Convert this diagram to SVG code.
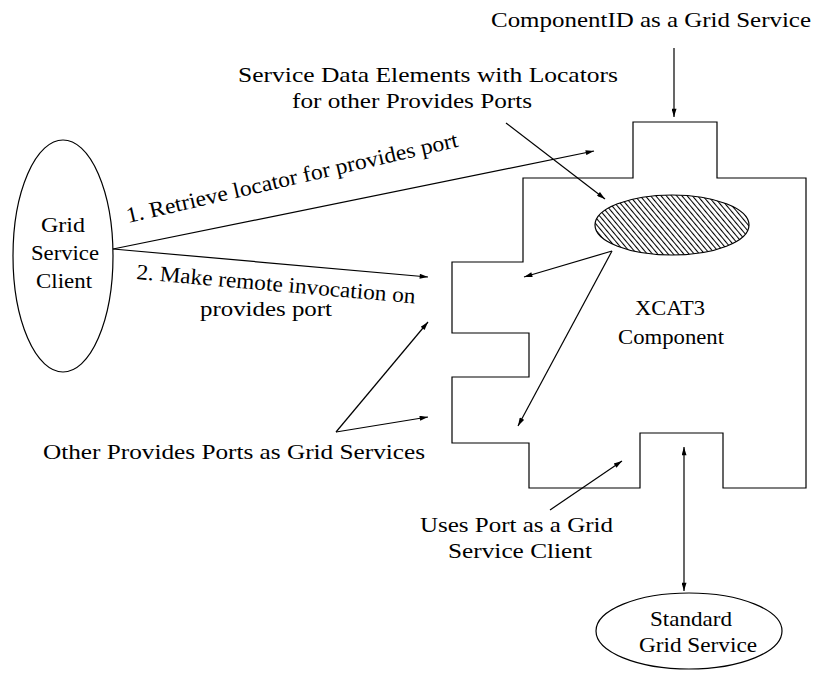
<svg xmlns="http://www.w3.org/2000/svg" width="817" height="673" viewBox="0 0 817 673">
<style>
  text { font-family: "Liberation Serif", "Times New Roman", serif; font-size: 22px; fill: #000; }
  .c { text-anchor: middle; }
  .shape { fill: #fff; stroke: #000; stroke-width: 1.2; }
  .conn line { stroke: #000; stroke-width: 1.2; marker-end: url(#ah); }
</style>
<defs>
  <marker id="ah" viewBox="0 0 10 6" refX="10" refY="3" markerWidth="10" markerHeight="5" markerUnits="userSpaceOnUse" orient="auto">
    <path d="M0,0 L10,3 L0,6 Z" fill="#000"/>
  </marker>
  <marker id="ahs" viewBox="0 0 10 6" refX="0" refY="3" markerWidth="10" markerHeight="5" markerUnits="userSpaceOnUse" orient="auto">
    <path d="M10,0 L0,3 L10,6 Z" fill="#000"/>
  </marker>
  <pattern id="hatch" width="4" height="4" patternUnits="userSpaceOnUse" patternTransform="rotate(-40)">
    <rect width="4" height="4" fill="#fff"/>
    <line x1="0.5" y1="0" x2="0.5" y2="4" stroke="#000" stroke-width="1.1"/>
  </pattern>
</defs>
<rect width="817" height="673" fill="#fff"/>

<g id="component">
  <path class="shape" d="M523,178 H633 V122 H717 V178 H806 V488 H723 V433 H640 V488 H529 V443 H452 V377 H529 V333 H452 V262 H523 Z"/>
  <text class="c" x="670" y="315" textLength="70" lengthAdjust="spacingAndGlyphs">XCAT3</text>
  <text class="c" x="671" y="344" textLength="106" lengthAdjust="spacingAndGlyphs">Component</text>
</g>

<g id="sde">
  <ellipse cx="672" cy="225" rx="77" ry="30" fill="url(#hatch)" stroke="#000" stroke-width="1.2"/>
</g>

<g id="client">
  <ellipse class="shape" cx="63" cy="256" rx="50" ry="116"/>
  <text class="c" x="63" y="232" textLength="44" lengthAdjust="spacingAndGlyphs">Grid</text>
  <text class="c" x="65" y="260" textLength="68" lengthAdjust="spacingAndGlyphs">Service</text>
  <text class="c" x="64" y="288" textLength="56" lengthAdjust="spacingAndGlyphs">Client</text>
</g>

<g id="standard">
  <ellipse class="shape" cx="689" cy="631" rx="93" ry="38"/>
  <text class="c" x="691" y="626" textLength="82" lengthAdjust="spacingAndGlyphs">Standard</text>
  <text class="c" x="698" y="652" textLength="118" lengthAdjust="spacingAndGlyphs">Grid Service</text>
</g>

<g id="labels">
  <text class="c" x="651" y="27" textLength="320" lengthAdjust="spacingAndGlyphs">ComponentID as a Grid Service</text>
  <text x="238" y="82" textLength="380" lengthAdjust="spacingAndGlyphs">Service Data Elements with Locators</text>
  <text x="292" y="108" textLength="240" lengthAdjust="spacingAndGlyphs">for other Provides Ports</text>
  <text x="128" y="223" transform="rotate(-13 128 223)" textLength="340" lengthAdjust="spacingAndGlyphs">1. Retrieve locator for provides port</text>
  <text x="136" y="279" transform="rotate(5 136 279)" textLength="280" lengthAdjust="spacingAndGlyphs">2. Make remote invocation on</text>
  <text x="200" y="316" textLength="132" lengthAdjust="spacingAndGlyphs">provides port</text>
  <text x="43" y="459" textLength="382" lengthAdjust="spacingAndGlyphs">Other Provides Ports as Grid Services</text>
  <text x="420" y="532" textLength="193" lengthAdjust="spacingAndGlyphs">Uses Port as a Grid</text>
  <text x="448" y="558" textLength="144" lengthAdjust="spacingAndGlyphs">Service Client</text>
</g>

<g id="connectors" class="conn">
  <line x1="113" y1="249" x2="594" y2="151"/>
  <line x1="113" y1="249" x2="428" y2="277"/>
  <line x1="506" y1="123" x2="605" y2="199"/>
  <line x1="612" y1="251" x2="524" y2="277"/>
  <line x1="612" y1="251" x2="518" y2="426"/>
  <line x1="336" y1="432" x2="428" y2="322"/>
  <line x1="336" y1="432" x2="428" y2="417"/>
  <line x1="550" y1="510" x2="622" y2="461"/>
  <line x1="674" y1="48" x2="674" y2="117"/>
  <line x1="684" y1="447" x2="684" y2="591" marker-start="url(#ahs)"/>
</g>
</svg>
